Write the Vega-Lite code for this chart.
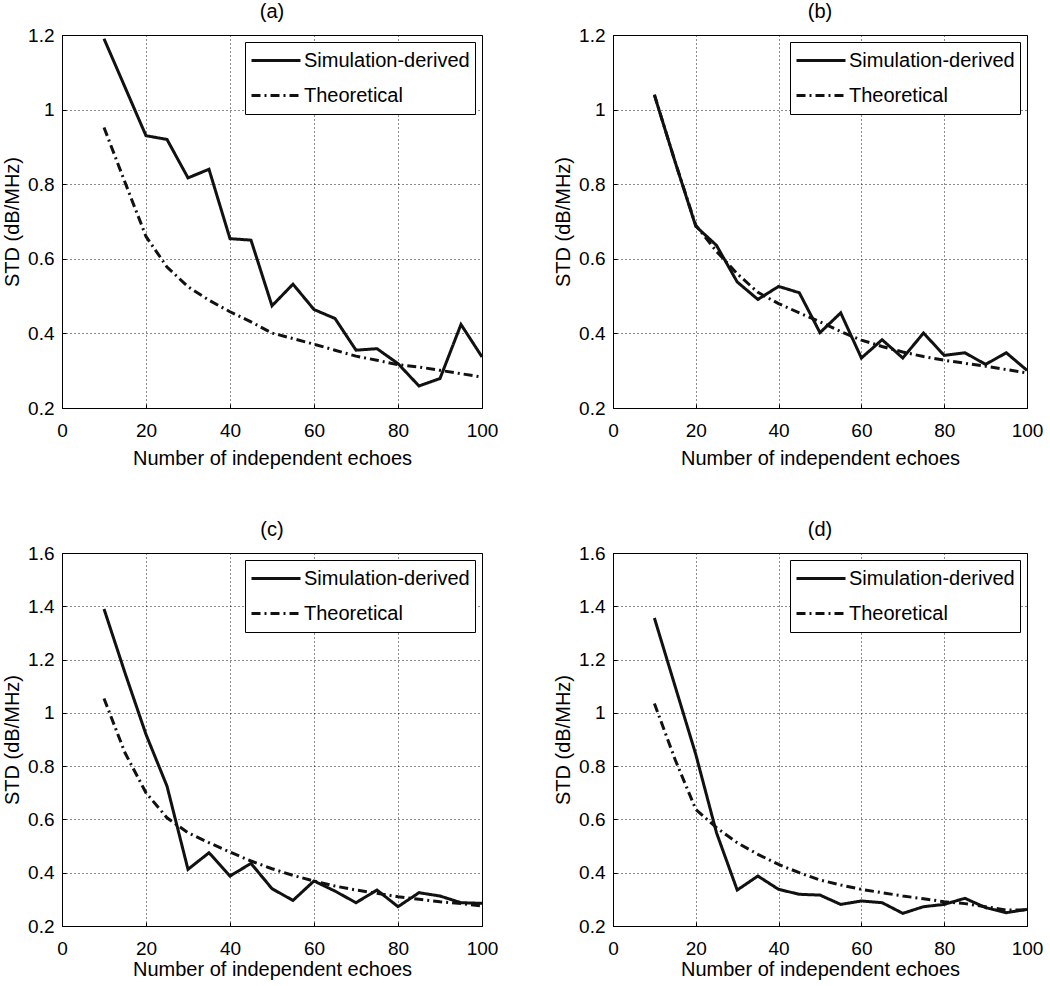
{
  "$schema": "https://vega.github.io/schema/vega-lite/v6.json",
  "padding": {"left": 2, "top": 1, "right": 0, "bottom": 0},
  "background": "white",
  "spacing": 50,
  "resolve": {"scale": {"strokeDash": "independent", "x": "independent", "y": "independent"}, "legend": {"strokeDash": "independent"}},
  "config": {
    "font": "Liberation Sans",
    "view": {"stroke": "#000", "strokeWidth": 1},
    "title": {"fontSize": 20, "fontWeight": "normal", "color": "#000", "offset": 4, "font": "Liberation Sans"},
    "axis": {
      "labelFont": "Liberation Sans", "titleFont": "Liberation Sans",
      "labelFontSize": 19, "titleFontSize": 20, "titleFontWeight": "normal",
      "labelColor": "#000", "titleColor": "#000",
      "domain": false, "tickSize": -4, "tickColor": "#000", "tickWidth": 1,
      "grid": true, "gridColor": "#000", "gridDash": [1, 3], "gridOpacity": 0.9, "gridWidth": 1,
      "labelFlush": false, "labelOverlap": false
    },
    "axisX": {"labelPadding": 17, "titlePadding": 8},
    "axisY": {"labelPadding": 12, "titlePadding": 5},
    "legend": {
      "orient": "top-right", "offset": 7, "strokeColor": "#000", "strokeWidth": 1, "fillColor": "#fff",
      "padding": 5, "cornerRadius": 0, "symbolType": "stroke", "symbolSize": 2401, "symbolStrokeWidth": 3,
      "symbolStrokeColor": "#111", "labelFont": "Liberation Sans", "labelFontSize": 20, "labelColor": "#000",
      "labelOffset": 2, "clipHeight": 27, "rowPadding": 8, "labelLimit": 400
    }
  },
  "datasets": {
    "a": [
      {"x": 10, "std": 1.19, "series": "Simulation-derived"},
      {"x": 15, "std": 1.06, "series": "Simulation-derived"},
      {"x": 20, "std": 0.93, "series": "Simulation-derived"},
      {"x": 25, "std": 0.92, "series": "Simulation-derived"},
      {"x": 30, "std": 0.817, "series": "Simulation-derived"},
      {"x": 35, "std": 0.84, "series": "Simulation-derived"},
      {"x": 40, "std": 0.654, "series": "Simulation-derived"},
      {"x": 45, "std": 0.65, "series": "Simulation-derived"},
      {"x": 50, "std": 0.474, "series": "Simulation-derived"},
      {"x": 55, "std": 0.532, "series": "Simulation-derived"},
      {"x": 60, "std": 0.464, "series": "Simulation-derived"},
      {"x": 65, "std": 0.44, "series": "Simulation-derived"},
      {"x": 70, "std": 0.355, "series": "Simulation-derived"},
      {"x": 75, "std": 0.359, "series": "Simulation-derived"},
      {"x": 80, "std": 0.319, "series": "Simulation-derived"},
      {"x": 85, "std": 0.259, "series": "Simulation-derived"},
      {"x": 90, "std": 0.279, "series": "Simulation-derived"},
      {"x": 95, "std": 0.424, "series": "Simulation-derived"},
      {"x": 100, "std": 0.337, "series": "Simulation-derived"},
      {"x": 10, "std": 0.952, "series": "Theoretical"},
      {"x": 15, "std": 0.805, "series": "Theoretical"},
      {"x": 20, "std": 0.66, "series": "Theoretical"},
      {"x": 25, "std": 0.578, "series": "Theoretical"},
      {"x": 30, "std": 0.525, "series": "Theoretical"},
      {"x": 35, "std": 0.489, "series": "Theoretical"},
      {"x": 40, "std": 0.458, "series": "Theoretical"},
      {"x": 45, "std": 0.431, "series": "Theoretical"},
      {"x": 50, "std": 0.401, "series": "Theoretical"},
      {"x": 55, "std": 0.386, "series": "Theoretical"},
      {"x": 60, "std": 0.371, "series": "Theoretical"},
      {"x": 65, "std": 0.355, "series": "Theoretical"},
      {"x": 70, "std": 0.339, "series": "Theoretical"},
      {"x": 75, "std": 0.328, "series": "Theoretical"},
      {"x": 80, "std": 0.316, "series": "Theoretical"},
      {"x": 85, "std": 0.31, "series": "Theoretical"},
      {"x": 90, "std": 0.301, "series": "Theoretical"},
      {"x": 95, "std": 0.292, "series": "Theoretical"},
      {"x": 100, "std": 0.283, "series": "Theoretical"}
    ],
    "b": [
      {"x": 10, "std": 1.039, "series": "Simulation-derived"},
      {"x": 15, "std": 0.86, "series": "Simulation-derived"},
      {"x": 20, "std": 0.687, "series": "Simulation-derived"},
      {"x": 25, "std": 0.636, "series": "Simulation-derived"},
      {"x": 30, "std": 0.538, "series": "Simulation-derived"},
      {"x": 35, "std": 0.491, "series": "Simulation-derived"},
      {"x": 40, "std": 0.526, "series": "Simulation-derived"},
      {"x": 45, "std": 0.509, "series": "Simulation-derived"},
      {"x": 50, "std": 0.402, "series": "Simulation-derived"},
      {"x": 55, "std": 0.455, "series": "Simulation-derived"},
      {"x": 60, "std": 0.334, "series": "Simulation-derived"},
      {"x": 65, "std": 0.383, "series": "Simulation-derived"},
      {"x": 70, "std": 0.334, "series": "Simulation-derived"},
      {"x": 75, "std": 0.401, "series": "Simulation-derived"},
      {"x": 80, "std": 0.341, "series": "Simulation-derived"},
      {"x": 85, "std": 0.348, "series": "Simulation-derived"},
      {"x": 90, "std": 0.317, "series": "Simulation-derived"},
      {"x": 95, "std": 0.348, "series": "Simulation-derived"},
      {"x": 100, "std": 0.301, "series": "Simulation-derived"},
      {"x": 10, "std": 1.04, "series": "Theoretical"},
      {"x": 15, "std": 0.86, "series": "Theoretical"},
      {"x": 20, "std": 0.69, "series": "Theoretical"},
      {"x": 25, "std": 0.62, "series": "Theoretical"},
      {"x": 30, "std": 0.56, "series": "Theoretical"},
      {"x": 35, "std": 0.51, "series": "Theoretical"},
      {"x": 40, "std": 0.48, "series": "Theoretical"},
      {"x": 45, "std": 0.455, "series": "Theoretical"},
      {"x": 50, "std": 0.431, "series": "Theoretical"},
      {"x": 55, "std": 0.405, "series": "Theoretical"},
      {"x": 60, "std": 0.382, "series": "Theoretical"},
      {"x": 65, "std": 0.365, "series": "Theoretical"},
      {"x": 70, "std": 0.35, "series": "Theoretical"},
      {"x": 75, "std": 0.338, "series": "Theoretical"},
      {"x": 80, "std": 0.328, "series": "Theoretical"},
      {"x": 85, "std": 0.32, "series": "Theoretical"},
      {"x": 90, "std": 0.312, "series": "Theoretical"},
      {"x": 95, "std": 0.303, "series": "Theoretical"},
      {"x": 100, "std": 0.294, "series": "Theoretical"}
    ],
    "c": [
      {"x": 10, "std": 1.39, "series": "Simulation-derived"},
      {"x": 15, "std": 1.15, "series": "Simulation-derived"},
      {"x": 20, "std": 0.919, "series": "Simulation-derived"},
      {"x": 25, "std": 0.725, "series": "Simulation-derived"},
      {"x": 30, "std": 0.4125, "series": "Simulation-derived"},
      {"x": 35, "std": 0.475, "series": "Simulation-derived"},
      {"x": 40, "std": 0.3875, "series": "Simulation-derived"},
      {"x": 45, "std": 0.435, "series": "Simulation-derived"},
      {"x": 50, "std": 0.34, "series": "Simulation-derived"},
      {"x": 55, "std": 0.296, "series": "Simulation-derived"},
      {"x": 60, "std": 0.369, "series": "Simulation-derived"},
      {"x": 65, "std": 0.331, "series": "Simulation-derived"},
      {"x": 70, "std": 0.2875, "series": "Simulation-derived"},
      {"x": 75, "std": 0.335, "series": "Simulation-derived"},
      {"x": 80, "std": 0.2725, "series": "Simulation-derived"},
      {"x": 85, "std": 0.325, "series": "Simulation-derived"},
      {"x": 90, "std": 0.3125, "series": "Simulation-derived"},
      {"x": 95, "std": 0.2875, "series": "Simulation-derived"},
      {"x": 100, "std": 0.285, "series": "Simulation-derived"},
      {"x": 10, "std": 1.054, "series": "Theoretical"},
      {"x": 15, "std": 0.85, "series": "Theoretical"},
      {"x": 20, "std": 0.7, "series": "Theoretical"},
      {"x": 25, "std": 0.606, "series": "Theoretical"},
      {"x": 30, "std": 0.55, "series": "Theoretical"},
      {"x": 35, "std": 0.5125, "series": "Theoretical"},
      {"x": 40, "std": 0.4775, "series": "Theoretical"},
      {"x": 45, "std": 0.444, "series": "Theoretical"},
      {"x": 50, "std": 0.415, "series": "Theoretical"},
      {"x": 55, "std": 0.39, "series": "Theoretical"},
      {"x": 60, "std": 0.369, "series": "Theoretical"},
      {"x": 65, "std": 0.35, "series": "Theoretical"},
      {"x": 70, "std": 0.335, "series": "Theoretical"},
      {"x": 75, "std": 0.3225, "series": "Theoretical"},
      {"x": 80, "std": 0.31, "series": "Theoretical"},
      {"x": 85, "std": 0.3, "series": "Theoretical"},
      {"x": 90, "std": 0.291, "series": "Theoretical"},
      {"x": 95, "std": 0.284, "series": "Theoretical"},
      {"x": 100, "std": 0.275, "series": "Theoretical"}
    ],
    "d": [
      {"x": 10, "std": 1.356, "series": "Simulation-derived"},
      {"x": 15, "std": 1.1, "series": "Simulation-derived"},
      {"x": 20, "std": 0.844, "series": "Simulation-derived"},
      {"x": 25, "std": 0.55, "series": "Simulation-derived"},
      {"x": 30, "std": 0.335, "series": "Simulation-derived"},
      {"x": 35, "std": 0.3875, "series": "Simulation-derived"},
      {"x": 40, "std": 0.3375, "series": "Simulation-derived"},
      {"x": 45, "std": 0.319, "series": "Simulation-derived"},
      {"x": 50, "std": 0.316, "series": "Simulation-derived"},
      {"x": 55, "std": 0.281, "series": "Simulation-derived"},
      {"x": 60, "std": 0.294, "series": "Simulation-derived"},
      {"x": 65, "std": 0.2875, "series": "Simulation-derived"},
      {"x": 70, "std": 0.2475, "series": "Simulation-derived"},
      {"x": 75, "std": 0.2725, "series": "Simulation-derived"},
      {"x": 80, "std": 0.281, "series": "Simulation-derived"},
      {"x": 85, "std": 0.304, "series": "Simulation-derived"},
      {"x": 90, "std": 0.269, "series": "Simulation-derived"},
      {"x": 95, "std": 0.25, "series": "Simulation-derived"},
      {"x": 100, "std": 0.2625, "series": "Simulation-derived"},
      {"x": 10, "std": 1.035, "series": "Theoretical"},
      {"x": 15, "std": 0.825, "series": "Theoretical"},
      {"x": 20, "std": 0.6375, "series": "Theoretical"},
      {"x": 25, "std": 0.569, "series": "Theoretical"},
      {"x": 30, "std": 0.5125, "series": "Theoretical"},
      {"x": 35, "std": 0.469, "series": "Theoretical"},
      {"x": 40, "std": 0.431, "series": "Theoretical"},
      {"x": 45, "std": 0.4, "series": "Theoretical"},
      {"x": 50, "std": 0.3725, "series": "Theoretical"},
      {"x": 55, "std": 0.354, "series": "Theoretical"},
      {"x": 60, "std": 0.3375, "series": "Theoretical"},
      {"x": 65, "std": 0.325, "series": "Theoretical"},
      {"x": 70, "std": 0.3125, "series": "Theoretical"},
      {"x": 75, "std": 0.3025, "series": "Theoretical"},
      {"x": 80, "std": 0.291, "series": "Theoretical"},
      {"x": 85, "std": 0.284, "series": "Theoretical"},
      {"x": 90, "std": 0.2725, "series": "Theoretical"},
      {"x": 95, "std": 0.26, "series": "Theoretical"},
      {"x": 100, "std": 0.26, "series": "Theoretical"}
    ]
  },
  "vconcat": [
    {
      "bounds": "flush",
      "spacing": 131,
      "resolve": {"scale": {"strokeDash": "independent", "x": "independent", "y": "independent"}, "legend": {"strokeDash": "independent"}},
      "hconcat": [
        {
          "width": 420, "height": 373,
          "title": "(a)",
          "data": {"name": "a"},
          "mark": {"type": "line", "color": "#111", "strokeWidth": 3},
          "encoding": {
            "x": {"field": "x", "type": "quantitative", "scale": {"domain": [0, 100], "nice": false}, "axis": {"values": [0, 20, 40, 60, 80, 100], "title": "Number of independent echoes"}},
            "y": {"field": "std", "type": "quantitative", "scale": {"domain": [0.2, 1.2], "nice": false, "zero": false}, "axis": {"values": [0.2, 0.4, 0.6, 0.8, 1, 1.2], "format": "~g", "title": "STD (dB/MHz)"}},
            "strokeDash": {"field": "series", "type": "nominal", "scale": {"domain": ["Simulation-derived", "Theoretical"], "range": [[1, 0], [9, 4, 2, 4]]}, "legend": {"title": null}}
          }
        },
        {
          "width": 414, "height": 373,
          "title": "(b)",
          "data": {"name": "b"},
          "mark": {"type": "line", "color": "#111", "strokeWidth": 3},
          "encoding": {
            "x": {"field": "x", "type": "quantitative", "scale": {"domain": [0, 100], "nice": false}, "axis": {"values": [0, 20, 40, 60, 80, 100], "title": "Number of independent echoes"}},
            "y": {"field": "std", "type": "quantitative", "scale": {"domain": [0.2, 1.2], "nice": false, "zero": false}, "axis": {"values": [0.2, 0.4, 0.6, 0.8, 1, 1.2], "format": "~g", "title": "STD (dB/MHz)"}},
            "strokeDash": {"field": "series", "type": "nominal", "scale": {"domain": ["Simulation-derived", "Theoretical"], "range": [[1, 0], [9, 4, 2, 4]]}, "legend": {"title": null}}
          }
        }
      ]
    },
    {
      "bounds": "flush",
      "spacing": 131,
      "resolve": {"scale": {"strokeDash": "independent", "x": "independent", "y": "independent"}, "legend": {"strokeDash": "independent"}},
      "hconcat": [
        {
          "width": 420, "height": 373,
          "title": "(c)",
          "data": {"name": "c"},
          "mark": {"type": "line", "color": "#111", "strokeWidth": 3},
          "encoding": {
            "x": {"field": "x", "type": "quantitative", "scale": {"domain": [0, 100], "nice": false}, "axis": {"values": [0, 20, 40, 60, 80, 100], "title": "Number of independent echoes", "titlePadding": 1}},
            "y": {"field": "std", "type": "quantitative", "scale": {"domain": [0.2, 1.6], "nice": false, "zero": false}, "axis": {"values": [0.2, 0.4, 0.6, 0.8, 1, 1.2, 1.4, 1.6], "format": "~g", "title": "STD (dB/MHz)"}},
            "strokeDash": {"field": "series", "type": "nominal", "scale": {"domain": ["Simulation-derived", "Theoretical"], "range": [[1, 0], [9, 4, 2, 4]]}, "legend": {"title": null}}
          }
        },
        {
          "width": 414, "height": 373,
          "title": "(d)",
          "data": {"name": "d"},
          "mark": {"type": "line", "color": "#111", "strokeWidth": 3},
          "encoding": {
            "x": {"field": "x", "type": "quantitative", "scale": {"domain": [0, 100], "nice": false}, "axis": {"values": [0, 20, 40, 60, 80, 100], "title": "Number of independent echoes", "titlePadding": 1}},
            "y": {"field": "std", "type": "quantitative", "scale": {"domain": [0.2, 1.6], "nice": false, "zero": false}, "axis": {"values": [0.2, 0.4, 0.6, 0.8, 1, 1.2, 1.4, 1.6], "format": "~g", "title": "STD (dB/MHz)"}},
            "strokeDash": {"field": "series", "type": "nominal", "scale": {"domain": ["Simulation-derived", "Theoretical"], "range": [[1, 0], [9, 4, 2, 4]]}, "legend": {"title": null}}
          }
        }
      ]
    }
  ]
}
